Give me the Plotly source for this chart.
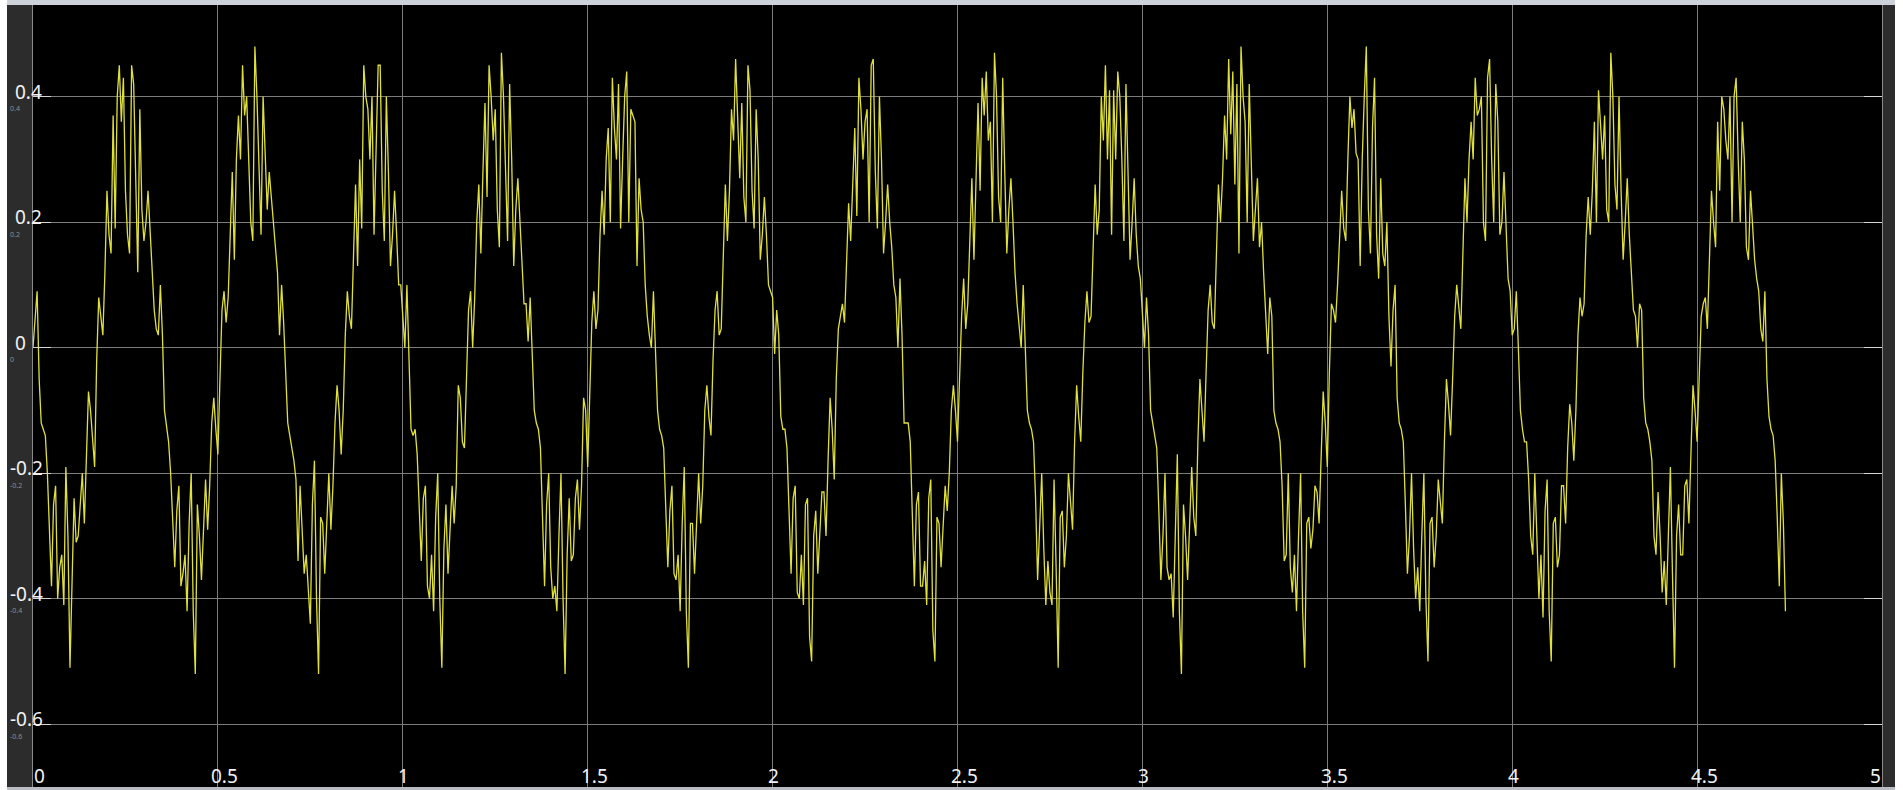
import plotly.graph_objects as go

# ---------------- data (one list per 1/3 s cycle) -------------
sample_step = 1 / 180  # seconds between read-off samples

cycle_01 = [0.00, 0.05, 0.09, -0.05, -0.12, -0.13, -0.14, -0.20, -0.30, -0.38,
            -0.25, -0.22, -0.40, -0.35, -0.33, -0.41, -0.19, -0.30, -0.51, -0.38,
            -0.24, -0.31, -0.30, -0.25, -0.20, -0.28, -0.17, -0.07, -0.10, -0.15,
            -0.19, -0.02, 0.08, 0.05, 0.02, 0.12, 0.25, 0.18, 0.15, 0.37,
            0.19, 0.40, 0.45, 0.36, 0.43, 0.25, 0.18, 0.15, 0.45, 0.42,
            0.24, 0.12, 0.38, 0.22, 0.17, 0.20, 0.25, 0.18, 0.12, 0.06]
cycle_02 = [0.03, 0.02, 0.10, 0.02, -0.10, -0.13, -0.15, -0.20, -0.27, -0.35,
            -0.26, -0.22, -0.38, -0.36, -0.33, -0.42, -0.28, -0.20, -0.42, -0.52,
            -0.25, -0.30, -0.37, -0.29, -0.21, -0.29, -0.22, -0.12, -0.08, -0.13,
            -0.17, -0.05, 0.06, 0.09, 0.04, 0.08, 0.20, 0.28, 0.14, 0.30,
            0.37, 0.30, 0.45, 0.37, 0.40, 0.28, 0.20, 0.17, 0.48, 0.40,
            0.30, 0.18, 0.40, 0.30, 0.22, 0.28, 0.24, 0.20, 0.15, 0.12]
cycle_03 = [0.02, 0.10, 0.04, -0.05, -0.12, -0.14, -0.16, -0.18, -0.21, -0.34,
            -0.22, -0.30, -0.36, -0.33, -0.38, -0.44, -0.25, -0.18, -0.40, -0.52,
            -0.27, -0.28, -0.36, -0.28, -0.20, -0.29, -0.22, -0.12, -0.06, -0.10,
            -0.17, -0.10, 0.02, 0.09, 0.05, 0.03, 0.14, 0.26, 0.13, 0.30,
            0.19, 0.45, 0.40, 0.38, 0.30, 0.40, 0.18, 0.30, 0.45, 0.45,
            0.25, 0.17, 0.40, 0.28, 0.13, 0.18, 0.25, 0.18, 0.10, 0.10]
cycle_04 = [0.04, 0.00, 0.10, -0.02, -0.13, -0.14, -0.13, -0.17, -0.26, -0.34,
            -0.24, -0.22, -0.38, -0.40, -0.33, -0.42, -0.27, -0.20, -0.40, -0.51,
            -0.32, -0.25, -0.36, -0.30, -0.22, -0.28, -0.22, -0.06, -0.08, -0.15,
            -0.16, -0.05, 0.06, 0.09, 0.00, 0.08, 0.20, 0.26, 0.15, 0.28,
            0.39, 0.24, 0.45, 0.40, 0.33, 0.38, 0.22, 0.16, 0.47, 0.40,
            0.30, 0.17, 0.42, 0.30, 0.13, 0.22, 0.27, 0.20, 0.12, 0.07]
cycle_05 = [0.07, 0.01, 0.08, -0.02, -0.10, -0.12, -0.13, -0.16, -0.28, -0.38,
            -0.25, -0.20, -0.35, -0.40, -0.38, -0.42, -0.30, -0.20, -0.40, -0.52,
            -0.33, -0.24, -0.34, -0.33, -0.24, -0.21, -0.29, -0.22, -0.08, -0.10,
            -0.19, -0.05, 0.04, 0.09, 0.03, 0.06, 0.18, 0.25, 0.18, 0.30,
            0.35, 0.20, 0.43, 0.35, 0.30, 0.42, 0.19, 0.30, 0.40, 0.44,
            0.20, 0.38, 0.37, 0.36, 0.13, 0.27, 0.22, 0.20, 0.10, 0.05]
cycle_06 = [0.02, 0.00, 0.09, 0.00, -0.10, -0.13, -0.14, -0.16, -0.25, -0.35,
            -0.26, -0.22, -0.36, -0.37, -0.33, -0.42, -0.28, -0.19, -0.42, -0.51,
            -0.28, -0.28, -0.36, -0.28, -0.20, -0.28, -0.22, -0.10, -0.06, -0.11,
            -0.14, -0.02, 0.06, 0.09, 0.02, 0.03, 0.16, 0.26, 0.17, 0.25,
            0.38, 0.33, 0.46, 0.36, 0.27, 0.39, 0.24, 0.20, 0.45, 0.41,
            0.25, 0.19, 0.38, 0.30, 0.14, 0.18, 0.24, 0.18, 0.10, 0.09]
cycle_07 = [0.08, -0.01, 0.06, 0.02, -0.11, -0.13, -0.13, -0.16, -0.26, -0.36,
            -0.24, -0.22, -0.39, -0.40, -0.33, -0.41, -0.25, -0.24, -0.46, -0.50,
            -0.30, -0.26, -0.36, -0.30, -0.23, -0.23, -0.30, -0.18, -0.08, -0.13,
            -0.21, -0.05, 0.03, 0.05, 0.07, 0.04, 0.15, 0.23, 0.17, 0.25,
            0.35, 0.21, 0.43, 0.38, 0.30, 0.36, 0.38, 0.20, 0.45, 0.46,
            0.28, 0.19, 0.40, 0.30, 0.15, 0.20, 0.26, 0.20, 0.16, 0.10]
cycle_08 = [0.08, 0.00, 0.11, 0.02, -0.12, -0.12, -0.12, -0.15, -0.27, -0.38,
            -0.25, -0.23, -0.38, -0.38, -0.34, -0.41, -0.24, -0.21, -0.45, -0.50,
            -0.27, -0.28, -0.35, -0.28, -0.22, -0.26, -0.20, -0.10, -0.06, -0.10,
            -0.15, -0.05, 0.05, 0.11, 0.03, 0.07, 0.18, 0.27, 0.14, 0.28,
            0.39, 0.25, 0.43, 0.37, 0.44, 0.33, 0.36, 0.20, 0.47, 0.40,
            0.24, 0.20, 0.43, 0.28, 0.15, 0.22, 0.27, 0.20, 0.12, 0.07]
cycle_09 = [0.03, 0.00, 0.10, 0.00, -0.10, -0.12, -0.13, -0.15, -0.24, -0.37,
            -0.28, -0.20, -0.32, -0.41, -0.34, -0.39, -0.41, -0.21, -0.35, -0.51,
            -0.27, -0.26, -0.35, -0.30, -0.20, -0.24, -0.29, -0.15, -0.06, -0.11,
            -0.15, -0.04, 0.04, 0.09, 0.04, 0.05, 0.17, 0.26, 0.18, 0.22,
            0.40, 0.33, 0.45, 0.30, 0.41, 0.18, 0.41, 0.30, 0.44, 0.40,
            0.30, 0.17, 0.42, 0.28, 0.14, 0.20, 0.27, 0.18, 0.13, 0.11]
cycle_10 = [0.05, 0.00, 0.08, 0.02, -0.10, -0.12, -0.14, -0.16, -0.26, -0.37,
            -0.30, -0.20, -0.35, -0.37, -0.36, -0.43, -0.30, -0.17, -0.42, -0.52,
            -0.25, -0.30, -0.37, -0.28, -0.19, -0.27, -0.30, -0.15, -0.05, -0.10,
            -0.15, -0.04, 0.06, 0.10, 0.04, 0.03, 0.17, 0.26, 0.20, 0.27,
            0.37, 0.30, 0.46, 0.34, 0.44, 0.26, 0.42, 0.15, 0.48, 0.40,
            0.36, 0.20, 0.42, 0.30, 0.17, 0.22, 0.27, 0.16, 0.20, 0.12]
cycle_11 = [0.05, -0.01, 0.08, 0.05, -0.10, -0.12, -0.13, -0.15, -0.22, -0.34,
            -0.33, -0.20, -0.35, -0.39, -0.33, -0.42, -0.30, -0.20, -0.42, -0.51,
            -0.28, -0.27, -0.32, -0.29, -0.22, -0.23, -0.28, -0.18, -0.07, -0.12,
            -0.19, -0.04, 0.07, 0.06, 0.04, 0.10, 0.18, 0.25, 0.19, 0.17,
            0.30, 0.40, 0.35, 0.38, 0.31, 0.30, 0.13, 0.30, 0.40, 0.48,
            0.22, 0.15, 0.35, 0.43, 0.18, 0.11, 0.27, 0.15, 0.13, 0.20]
cycle_12 = [0.05, -0.03, 0.06, 0.10, -0.08, -0.12, -0.13, -0.15, -0.25, -0.36,
            -0.30, -0.20, -0.32, -0.40, -0.35, -0.42, -0.30, -0.20, -0.40, -0.50,
            -0.28, -0.27, -0.35, -0.30, -0.21, -0.24, -0.28, -0.15, -0.05, -0.09,
            -0.14, -0.05, 0.05, 0.10, 0.07, 0.03, 0.15, 0.27, 0.20, 0.30,
            0.36, 0.30, 0.43, 0.37, 0.38, 0.40, 0.20, 0.17, 0.43, 0.46,
            0.30, 0.20, 0.42, 0.36, 0.18, 0.20, 0.28, 0.19, 0.11, 0.09]
cycle_13 = [0.02, 0.03, 0.09, 0.00, -0.10, -0.13, -0.15, -0.15, -0.21, -0.30,
            -0.33, -0.20, -0.32, -0.40, -0.33, -0.43, -0.26, -0.21, -0.42, -0.50,
            -0.28, -0.27, -0.35, -0.33, -0.22, -0.22, -0.28, -0.16, -0.09, -0.12,
            -0.18, -0.10, 0.02, 0.08, 0.05, 0.07, 0.18, 0.24, 0.18, 0.25,
            0.36, 0.20, 0.41, 0.36, 0.30, 0.37, 0.22, 0.20, 0.47, 0.40,
            0.26, 0.22, 0.40, 0.25, 0.14, 0.20, 0.27, 0.18, 0.11, 0.06]
cycle_14 = [0.05, 0.00, 0.07, 0.06, -0.08, -0.12, -0.13, -0.15, -0.18, -0.30,
            -0.33, -0.23, -0.30, -0.39, -0.34, -0.41, -0.30, -0.19, -0.36, -0.51,
            -0.30, -0.25, -0.33, -0.33, -0.22, -0.21, -0.28, -0.16, -0.06, -0.10,
            -0.15, -0.05, 0.05, 0.07, 0.08, 0.03, 0.15, 0.25, 0.20, 0.16,
            0.36, 0.25, 0.40, 0.38, 0.33, 0.30, 0.40, 0.20, 0.40, 0.43,
            0.30, 0.20, 0.36, 0.30, 0.16, 0.14, 0.25, 0.20, 0.14, 0.11]
cycle_15 = [0.09, 0.03, 0.01, 0.09, -0.05, -0.11, -0.13, -0.14, -0.18, -0.27,
            -0.38, -0.20, -0.28, -0.42]

x_tick_values = [0, 0.5, 1, 1.5, 2, 2.5, 3, 3.5, 4, 4.5, 5]
x_tick_labels = ["0", "0.5", "1", "1.5", "2", "2.5", "3", "3.5", "4", "4.5", "5"]
y_tick_values = [0.4, 0.2, 0, -0.2, -0.4, -0.6]
y_tick_labels = ["0.4", "0.2", "0", "-0.2", "-0.4", "-0.6"]

signal = (cycle_01 + cycle_02 + cycle_03 + cycle_04 + cycle_05 + cycle_06 + cycle_07
          + cycle_08 + cycle_09 + cycle_10 + cycle_11 + cycle_12 + cycle_13 + cycle_14
          + cycle_15)
time = [i * sample_step for i in range(len(signal))]

# ---------------- layout geometry ----------------
W, H = 1903, 790
ML, MR, MT, MB = 33, 21, 5, 3
PW, PH = W - ML - MR, H - MT - MB


def paper_x(px):
    return (px - ML) / PW


def paper_y(py):
    return (H - MB - py) / PH


LABEL_FONT = dict(family="Noto Sans, Open Sans, sans-serif", size=19, color="#f2f2f2")
GRID = "#7c7c7c"

fig = go.Figure()
fig.add_trace(go.Scatter(
    x=time, y=signal, mode="lines",
    line=dict(color="#e0e03c", width=1.3),
    hoverinfo="skip", showlegend=False,
))

shapes = [
    # white outer margins
    dict(type="rect", xref="paper", yref="paper", x0=paper_x(0), x1=paper_x(7),
         y0=paper_y(H), y1=paper_y(0), fillcolor="white", line=dict(width=0), layer="above"),
    dict(type="rect", xref="paper", yref="paper", x0=paper_x(1895), x1=paper_x(W),
         y0=paper_y(H), y1=paper_y(0), fillcolor="white", line=dict(width=0), layer="above"),
    # light top band
    dict(type="rect", xref="paper", yref="paper", x0=paper_x(7), x1=paper_x(1895),
         y0=paper_y(MT), y1=paper_y(0), fillcolor="#cdd2da", line=dict(width=0), layer="above"),
    # light bottom band
    dict(type="rect", xref="paper", yref="paper", x0=paper_x(7), x1=paper_x(1895),
         y0=paper_y(H), y1=paper_y(H - MB), fillcolor="#b9bcc2", line=dict(width=0), layer="above"),
]

annotations = []
# faint small duplicate labels just under the main y labels
for v, s in zip(y_tick_values, y_tick_labels):
    annotations.append(dict(
        x=paper_x(8), xref="paper", y=v, yref="y", text=s, showarrow=False,
        xanchor="left", yanchor="middle", yshift=-12,
        font=dict(family="Noto Sans, sans-serif", size=7, color="#8e8e8e"),
    ))
for v, s in zip(y_tick_values, y_tick_labels):
    annotations.append(dict(
        x=paper_x(13), xref="paper", y=v, yref="y", text=s, showarrow=False,
        xanchor="left", yanchor="middle", yshift=5, xshift=-5 if s.startswith("-") else 0,
        font=LABEL_FONT,
    ))
for v, s in zip(x_tick_values, x_tick_labels):
    if v == x_tick_values[0]:
        anchor, shift = "left", -1
    elif v == x_tick_values[-1]:
        anchor, shift = "right", 1
    else:
        anchor, shift = "center", (7 if "." in s else 1)
    annotations.append(dict(
        x=v, xref="x", y=0, yref="paper", text=s, showarrow=False,
        xanchor=anchor, yanchor="middle", yshift=11, xshift=shift,
        font=LABEL_FONT,
    ))

fig.update_layout(
    width=W, height=H,
    margin=dict(l=ML, r=MR, t=MT, b=MB, pad=0),
    paper_bgcolor="#2c2c2c",
    plot_bgcolor="black",
    showlegend=False,
    shapes=shapes,
    annotations=annotations,
)
fig.update_xaxes(
    range=[0, 5], tickvals=x_tick_values, showticklabels=False,
    showgrid=True, gridcolor=GRID, gridwidth=1, zeroline=False,
    showline=True, linecolor="#8a8a8a", linewidth=1, mirror=True, ticks="",
)
fig.update_yaxes(
    range=[-0.7, 0.546], tickvals=y_tick_values, showticklabels=False,
    showgrid=True, gridcolor=GRID, gridwidth=1, zeroline=False,
    showline=True, linecolor="#8a8a8a", linewidth=1, mirror="ticks",
    ticks="inside", ticklen=18, tickcolor="#d6d6d6", tickwidth=1,
)

fig.write_html(
    "out.html",
    config={"displayModeBar": False},
    post_script="document.body.style.margin='0px';document.body.style.overflow='hidden';",
)
